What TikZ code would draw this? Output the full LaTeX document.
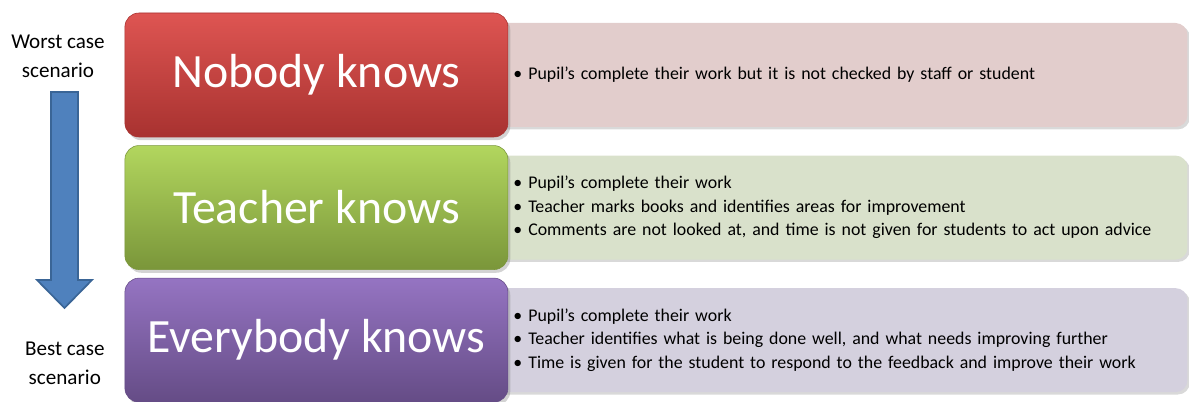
\documentclass[tikz,border=0pt]{standalone}
\usepackage{fontspec}
\setmainfont{Carlito}
\usetikzlibrary{positioning,shadows}
\pgfdeclarelayer{bg}
\pgfsetlayers{bg,main}

\definecolor{redTop}{HTML}{DE5552}
\definecolor{redMid}{HTML}{D0403E}
\definecolor{redBot}{HTML}{A83230}
\definecolor{redInfo}{HTML}{E2CDCC}
\definecolor{greenTop}{HTML}{B2D65E}
\definecolor{greenMid}{HTML}{98BA4F}
\definecolor{greenBot}{HTML}{7A963A}
\definecolor{greenInfo}{HTML}{D9E1CB}
\definecolor{purpleTop}{HTML}{9574C2}
\definecolor{purpleMid}{HTML}{7F62A6}
\definecolor{purpleBot}{HTML}{654C86}
\definecolor{purpleInfo}{HTML}{D4D0DE}
\definecolor{arrowBlue}{HTML}{4F81BD}
\definecolor{arrowEdge}{HTML}{3A6596}

\begin{document}
\begin{tikzpicture}[
node distance = 2mm,
every node/.style = {
	font = \fontsize{15}{20.5}\selectfont
},
stage/.style = {
	rounded corners = 3.5mm,
	minimum width = 9.575cm,
	minimum height = 3.1cm,
	text = white,
	font = \fontsize{34}{40}\selectfont,
	drop shadow = {opacity = .35, shadow xshift = .6mm, shadow yshift = -.8mm}
},
info/.style = {
	rounded corners = 3mm,
	minimum height = 2.6cm,
	text width = 16.275cm,
	inner xsep = .575cm,
	align = left,
	font = \fontsize{12.7}{16.7}\selectfont,
	drop shadow = {opacity = .3, shadow xshift = .6mm, shadow yshift = -.6mm}
}
]
\useasboundingbox (0,0) rectangle (29.725,10.05);

% stages
\node (stage_N) [stage, draw = redBot, top color = redTop, middle color = redMid, bottom color = redBot] at (7.91,8.175) {Nobody knows};
\node (stage_T) [stage, below = of stage_N, draw = greenBot, top color = greenTop, middle color = greenMid, bottom color = greenBot] {Teacher knows};
\node (stage_E) [stage, below = of stage_T, draw = purpleBot, top color = purpleTop, middle color = purpleMid, bottom color = purpleBot] {Everybody knows};

% details behind the stages
\begin{pgfonlayer}{bg}
\node (info_N) [info, right = -.45cm of stage_N, fill = redInfo] {%
	\textbullet\ Pupil's complete their work but it is not checked by staff or student};
\node (info_T) [info, right = -.45cm of stage_T, fill = greenInfo] {%
	\textbullet\ Pupil's complete their work\\
	\textbullet\ Teacher marks books and identifies areas for improvement\\
	\textbullet\ Comments are not looked at, and time is not given for students to act upon advice};
\node (info_E) [info, right = -.45cm of stage_E, fill = purpleInfo] {%
	\textbullet\ Pupil's complete their work\\
	\textbullet\ Teacher identifies what is being done well, and what needs improving further\\
	\textbullet\ Time is given for the student to respond to the feedback and improve their work};
\end{pgfonlayer}

% scale
\node (label_worst) [align = center] at (1.45,8.65) {Worst case\\scenario};
\node (label_best) [align = center] at (1.62,0.975) {Best case\\scenario};
\draw [arrowEdge, line width = 1.2pt, fill = arrowBlue, line join = miter]
	(1.275,7.75) -- (1.95,7.75) -- (1.95,3.05) -- (2.3,3.05) -- (1.6125,2.35)
	-- (0.925,3.05) -- (1.275,3.05) -- cycle;

\end{tikzpicture}
\end{document}
